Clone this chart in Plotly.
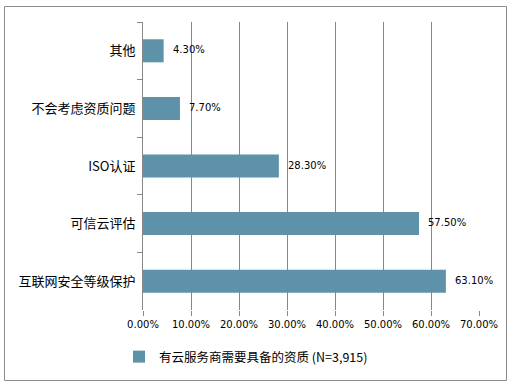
import plotly.graph_objects as go

categories = ["其他", "不会考虑资质问题", "ISO认证", "可信云评估", "互联网安全等级保护"]
values = [0.043, 0.077, 0.283, 0.575, 0.631]
labels = ["4.30%", "7.70%", "28.30%", "57.50%", "63.10%"]
series_name = "有云服务商需要具备的资质 (N=3,915)"

W, H = 511, 387
L, R, T, B = 143, 32, 22, 77
pw, ph = W - L - R, H - T - B

def px(x):
    return (x - L) / pw

def py(y):
    return (H - B - y) / ph

cjk = "Noto Sans CJK SC, DejaVu Sans, sans-serif"
num = "DejaVu Sans, Verdana, sans-serif"
bar_color = "#5E92A8"
grid = "#888888"

fig = go.Figure()
fig.add_trace(go.Bar(
    y=categories, x=values, orientation="h", name=series_name,
    marker=dict(color=bar_color, line=dict(width=0)), width=0.4,
    showlegend=True,
))

for c, v, t in zip(categories, values, labels):
    fig.add_annotation(x=v, y=c, text=t, showarrow=False, xanchor="left",
                       xshift=7, yshift=1, font=dict(size=10, color="#000000", family=num))

fig.add_shape(type="rect", xref="paper", yref="paper",
              x0=px(4.5), x1=px(506.5), y0=py(380.5), y1=py(6.5),
              line=dict(color="#8c8c8c", width=1), fillcolor="rgba(0,0,0,0)", layer="below")

fig.update_layout(
    template="none",
    width=W, height=H,
    margin=dict(l=L, r=R, t=T, b=B, autoexpand=False),
    paper_bgcolor="white", plot_bgcolor="white",
    font=dict(family=cjk, color="#000000"),
    legend=dict(orientation="h", x=px(119), xanchor="left", y=py(357), yanchor="middle",
                font=dict(size=12.5, family=cjk), traceorder="normal",
                bgcolor="rgba(0,0,0,0)"),
    xaxis=dict(range=[0, 0.7], dtick=0.1, tick0=0, tickformat=".2%",
               showgrid=True, gridcolor=grid, gridwidth=1, automargin=False,
               zeroline=False, showline=False,
               ticks="outside", ticklen=5, tickcolor=grid,
               tickfont=dict(size=10, family=num, color="#000000"),
               fixedrange=True),
    yaxis=dict(autorange="reversed", showgrid=False, showline=True, linecolor=grid,
               linewidth=1, ticks="outside", ticklen=5, tickcolor=grid,
               tickson="boundaries", automargin=False, zeroline=False,
               ticklabelstandoff=4,
               tickfont=dict(size=13, family=cjk, color="#000000"),
               fixedrange=True),
)

fig.write_html("out.html", config={"displayModeBar": False},
               post_script="document.body.style.margin='0';document.body.style.overflow='hidden';")
